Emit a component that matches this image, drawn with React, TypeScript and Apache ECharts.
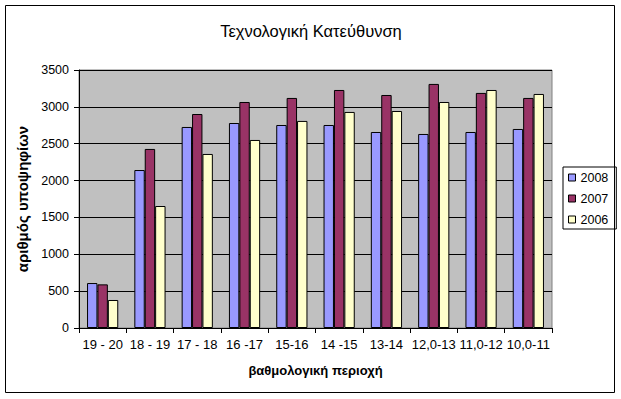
import React, { useEffect, useRef } from "react";
import * as echarts from "echarts";

const categories = ["19 - 20", "18 - 19", "17 - 18", "16 -17", "15-16", "14 -15", "13-14", "12,0-13", "11,0-12", "10,0-11"];
const seriesNames = ["2008", "2007", "2006"];
const values2008 = [610, 2143, 2727, 2781, 2754, 2754, 2659, 2632, 2659, 2700];
const values2007 = [592, 2429, 2903, 3066, 3121, 3229, 3161, 3311, 3189, 3121];
const values2006 = [380, 1655, 2361, 2551, 2809, 2931, 2944, 3066, 3229, 3175];
const colors = ["#9999FF", "#993366", "#FFFFCC"];

const FONT = "'Liberation Sans', Arial, sans-serif";

export default function App() {
  const ref = useRef<HTMLDivElement>(null);
  useEffect(() => {
    if (!ref.current) return;
    const chart = echarts.init(ref.current, undefined, { renderer: "svg" });
    const data = [values2008, values2007, values2006];
    chart.setOption({
      animation: false,
      backgroundColor: "#ffffff",
      textStyle: { fontFamily: FONT },
      title: {
        text: "Τεχνολογική Κατεύθυνση",
        left: 306,
        top: 17,
        textAlign: "center",
        textStyle: { fontFamily: FONT, fontSize: 16.5, fontWeight: "normal", color: "#000" },
      },
      graphic: [
        {
          type: "rect",
          shape: { x: 5.5, y: 5.5, width: 609, height: 387 },
          style: { fill: "none", stroke: "#000", lineWidth: 1 },
          silent: true,
        },
      ],
      legend: {
        orient: "vertical",
        left: 563,
        top: 167,
        width: 50,
        itemWidth: 7,
        itemHeight: 7,
        itemGap: 8,
        padding: [4, 8, 3, 5],
        borderColor: "#000",
        borderWidth: 1,
        icon: "rect",
        itemStyle: { borderColor: "#000", borderWidth: 1 },
        textStyle: { fontFamily: FONT, fontSize: 12.5, color: "#000" },
        data: seriesNames,
      },
      grid: {
        left: 79,
        top: 70,
        width: 473,
        height: 258,
        show: true,
        backgroundColor: "#C0C0C0",
        borderColor: "#808080",
        borderWidth: 1,
      },
      xAxis: {
        type: "category",
        data: categories,
        name: "βαθμολογική περιοχή",
        nameLocation: "middle",
        nameGap: 36,
        nameTextStyle: { fontFamily: FONT, fontSize: 13, fontWeight: "bold", color: "#000" },
        axisLine: { lineStyle: { color: "#000", width: 1 } },
        axisTick: { show: true, length: 5, lineStyle: { color: "#000" } },
        axisLabel: { fontFamily: FONT, fontSize: 13, color: "#000", margin: 10, interval: 0 },
        splitLine: { show: false },
      },
      yAxis: {
        type: "value",
        min: 0,
        max: 3500,
        interval: 500,
        name: "αριθμός υποψηφίων",
        nameLocation: "middle",
        nameGap: 47,
        nameRotate: 90,
        nameTextStyle: { fontFamily: FONT, fontSize: 15, fontWeight: "bold", color: "#000" },
        axisLine: { show: true, lineStyle: { color: "#000", width: 1 } },
        axisTick: { show: true, length: 5, lineStyle: { color: "#000" } },
        axisLabel: {
          fontFamily: FONT,
          fontSize: 12.5,
          color: "#000",
          margin: 10,
          formatter: (v: number) => String(v),
        },
        splitLine: { show: true, lineStyle: { color: "#000", width: 1 } },
      },
      series: seriesNames.map((name, i) => ({
        name,
        type: "bar",
        data: data[i],
        barGap: "0%",
        barCategoryGap: "34%",
        itemStyle: { color: colors[i], borderColor: "#000", borderWidth: 1 },
      })),
    });
    return () => chart.dispose();
  }, []);
  return (
    <div
      ref={ref}
      style={{ position: "fixed", left: 0, top: 0, width: 621, height: 399, background: "#fff" }}
    />
  );
}
